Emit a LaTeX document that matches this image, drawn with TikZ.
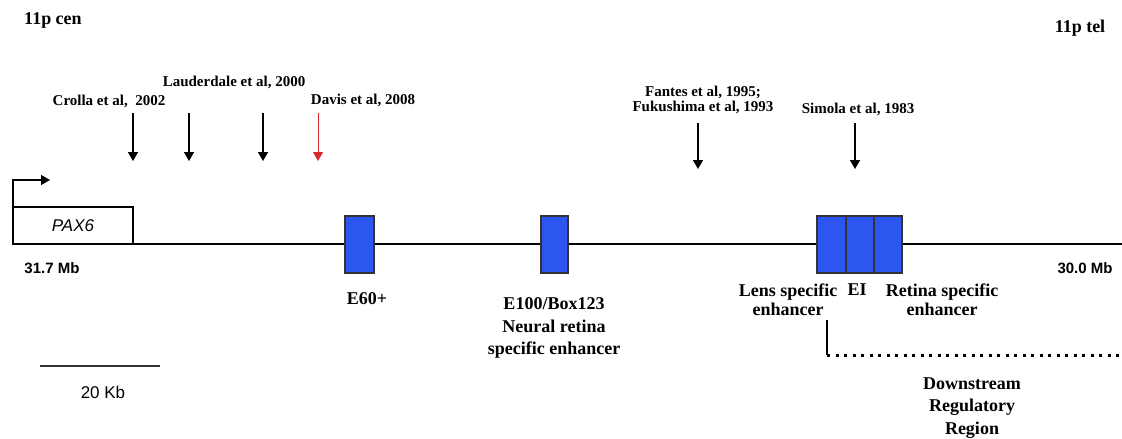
\documentclass[tikz,border=0pt]{standalone}
\usepackage{fontspec}
\setmainfont{Liberation Serif}
\setsansfont{Liberation Sans}
\usetikzlibrary{arrows.meta}
\definecolor{exonblue}{RGB}{45,85,240}
\definecolor{davisred}{RGB}{215,40,45}
\begin{document}
\begin{tikzpicture}[x=1pt,y=-1pt,
  big/.style={font=\fontsize{18}{20}\selectfont\bfseries, align=center, inner sep=0pt},
  bigml/.style={font=\fontsize{18}{22.5}\selectfont\bfseries, align=center, inner sep=0pt},
  cite/.style={font=\fontsize{15}{14.5}\selectfont\bfseries, align=center, inner sep=0pt},
  mb/.style={font=\sffamily\bfseries\fontsize{15}{17}\selectfont, inner sep=0pt},
  exon/.style={draw=black!80, line width=1.2pt, fill=exonblue, minimum height=57pt, inner sep=0pt, outer sep=0pt},
  site/.style={line width=1.5pt, -{Triangle[width=10pt,length=9pt]}},
  gene/.style={line width=2.6pt}]
\useasboundingbox (0,0) rectangle (1122,439);

% chromosome orientation
\node[big] (cen) at (53,20) {11p cen};
\node[big] (tel) at (1080,28) {11p tel};

% genomic line
\coordinate (gs) at (13,244);
\coordinate (ge) at (1122,244);
\draw[gene] (gs) -- (ge);

% PAX6 gene
\node[draw, line width=1.2pt, fill=white, minimum width=120pt, minimum height=37pt, inner sep=0pt, outer sep=0pt,
      font=\sffamily\itshape\fontsize{17}{19}\selectfont] (pax) at (73,225.5) {PAX6};
\coordinate (tss) at (50,180);
\draw[line width=1.5pt, -{Triangle[width=10pt,length=9pt]}] (pax.north west) |- (tss);

% enhancer boxes
\node[exon, minimum width=29pt] (e60) at (359.5,244.5) {};
\node[exon, minimum width=27pt] (e100) at (554.5,244.5) {};
\node[exon, minimum width=29pt] (lens) at (831.5,244.5) {};
\node[exon, minimum width=28pt] (ei) at (860,244.5) {};
\node[exon, minimum width=28pt] (ret) at (888,244.5) {};

% coordinates labels
\node[mb] (l317) at (52,268) {31.7 Mb};
\node[mb] (l300) at (1085,268) {30.0 Mb};

% enhancer labels
\node[big] (le60) at (367,299) {E60+};
\node[bigml] (le100) at (554,328) {E100/Box123\\Neural retina\\specific enhancer};
\node[big, font=\fontsize{18}{19}\selectfont\bfseries] (llens) at (788,299.5) {Lens specific\\enhancer};
\node[big] (lei) at (857,290) {EI};
\node[big, font=\fontsize{18}{19}\selectfont\bfseries] (lret) at (942,299.5) {Retina specific\\enhancer};

% downstream regulatory region
\coordinate (b1) at (827,320);
\coordinate (b2) at (827,355);
\coordinate (b3) at (1122,355);
\draw[line width=1.4pt] (b1) -- (b2);
\draw[line width=3pt, dash pattern=on 3pt off 5.5pt] (b2) -- (b3);
\node[bigml] (ldrr) at (972,408) {Downstream\\Regulatory\\Region};

% citations
\node[cite] (crolla) at (109,101) {Crolla et al,\ \ 2002};
\node[cite] (laud) at (234,82) {Lauderdale et al, 2000};
\node[cite] (davis) at (363,100) {Davis et al, 2008};
\node[cite] (fantes) at (703,100) {Fantes et al, 1995;\\Fukushima et al, 1993};
\node[cite] (simola) at (858,109) {Simola et al, 1983};

\coordinate (a1s) at (133,113); \coordinate (a1e) at (133,161);
\coordinate (a2s) at (189,113); \coordinate (a2e) at (189,161);
\coordinate (a3s) at (263,113); \coordinate (a3e) at (263,161);
\coordinate (a4s) at (318,113); \coordinate (a4e) at (318,161);
\coordinate (a5s) at (698,123); \coordinate (a5e) at (698,169);
\coordinate (a6s) at (855,123); \coordinate (a6e) at (855,169);
\draw[site] (a1s) -- (a1e);
\draw[site] (a2s) -- (a2e);
\draw[site] (a3s) -- (a3e);
\draw[site, davisred, line width=1pt] (a4s) -- (a4e);
\draw[site] (a5s) -- (a5e);
\draw[site] (a6s) -- (a6e);

% scale bar
\coordinate (sb1) at (40,366);
\coordinate (sb2) at (160,366);
\draw[line width=1.8pt, black!80] (sb1) -- (sb2);
\node[font=\sffamily\fontsize{17}{19}\selectfont, inner sep=0pt] (skb) at (103,392) {20 Kb};
\end{tikzpicture}
\end{document}
